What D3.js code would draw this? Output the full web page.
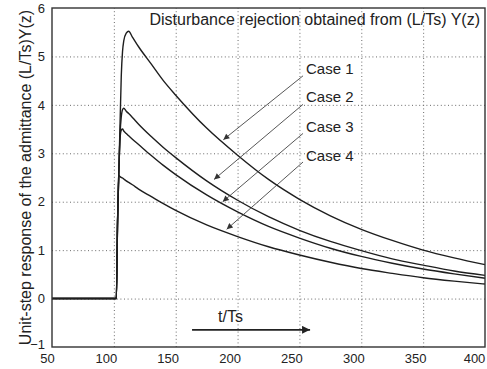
<!DOCTYPE html>
<html>
<head>
<meta charset="utf-8">
<script src="https://cdn.jsdelivr.net/npm/d3@7"></script>
<style>
body { margin: 0; background: #fff; }
text { font-family: "Liberation Sans", Arial, sans-serif; fill: #222; }
.grid line { stroke: #6a6a6a; stroke-dasharray: 1,2.6; }
.grid path { display: none; }
.axis path, .axis line { display: none; }
</style>
</head>
<body>
<svg id="chart" width="487" height="369"></svg>
<script>
// sample times (t/Ts)
var times = [50, 102, 103, 104, 105, 106, 107, 108, 110, 112, 115, 120, 130, 140, 150,
  175, 200, 225, 250, 275, 300, 325, 350, 375, 400];

// unit-step responses
var case1 = [0, 0, 1.6, 2.6, 3.6, 4.6, 5.1, 5.32, 5.48, 5.52, 5.4, 5.2, 4.85, 4.5, 4.2,
  3.52, 2.96, 2.46, 2.05, 1.71, 1.43, 1.2, 1.0, 0.84, 0.7];
var case2 = [0, 0, 1.6, 2.6, 3.4, 3.75, 3.9, 3.93, 3.87, 3.82, 3.74, 3.6, 3.35, 3.12, 2.91,
  2.43, 2.03, 1.69, 1.41, 1.18, 0.99, 0.82, 0.69, 0.57, 0.48];
var case3 = [0, 0, 1.6, 2.6, 3.3, 3.48, 3.5, 3.46, 3.41, 3.36, 3.29, 3.18, 2.96, 2.75, 2.56,
  2.14, 1.79, 1.49, 1.25, 1.04, 0.87, 0.73, 0.61, 0.51, 0.42];
var case4 = [0, 0, 1.6, 2.54, 2.52, 2.5, 2.49, 2.47, 2.43, 2.4, 2.35, 2.26, 2.11, 1.96, 1.82,
  1.52, 1.28, 1.07, 0.9, 0.75, 0.62, 0.52, 0.43, 0.36, 0.3];

var xTicks = [50, 100, 150, 200, 250, 300, 350, 400];
var yTicks = [-1, 0, 1, 2, 3, 4, 5, 6];

var caseNames = ["Case 1", "Case 2", "Case 3", "Case 4"];
// label anchor (t, value) and arrow tip (t, value)
var labelAt = [[255.3, 4.64], [255.3, 4.06], [255.3, 3.44], [255.3, 2.85]];
var arrowFrom = [[252.9, 4.6], [252.9, 4.01], [252.9, 3.41], [252.9, 2.82]];
var arrowTo = [[188.5, 3.28], [181.0, 2.46], [188.0, 2.0], [191.2, 1.43]];

var svg = d3.select("#chart"),
margin = {top: 8, right: 2, bottom: 22, left: 52},
width = +svg.attr("width") - margin.left - margin.right,
height = +svg.attr("height") - margin.top - margin.bottom;

var x = d3.scaleLinear().domain([50, 400]).range([0, width]),
y = d3.scaleLinear().domain([-1, 6]).range([height, 0]);

var defs = svg.append("defs");
defs.append("marker")
  .attr("id", "head")
  .attr("viewBox", "0 0 10 10")
  .attr("refX", 10).attr("refY", 5)
  .attr("markerWidth", 9).attr("markerHeight", 6)
  .attr("markerUnits", "userSpaceOnUse")
  .attr("orient", "auto")
.append("path")
  .attr("d", "M0,0L10,5L0,10z")
  .attr("fill", "#333");
defs.append("marker")
  .attr("id", "head2")
  .attr("viewBox", "0 0 10 10")
  .attr("refX", 10).attr("refY", 5)
  .attr("markerWidth", 11).attr("markerHeight", 8)
  .attr("markerUnits", "userSpaceOnUse")
  .attr("orient", "auto")
.append("path")
  .attr("d", "M0,0L10,5L0,10z")
  .attr("fill", "#222");

var g = svg.append("g")
  .attr("transform", "translate(" + margin.left + "," + margin.top + ")");

// dotted grid
g.append("g")
  .attr("class", "grid")
  .attr("transform", "translate(0," + height + ")")
  .call(d3.axisBottom(x).tickValues(xTicks.slice(1, -1)).tickSize(-height).tickFormat(""));
g.append("g")
  .attr("class", "grid")
  .call(d3.axisLeft(y).tickValues(yTicks.slice(1, -1)).tickSize(-width).tickFormat(""));

// tick labels
g.append("g")
  .attr("class", "axis")
  .attr("transform", "translate(0," + height + ")")
  .call(d3.axisBottom(x).tickValues(xTicks).tickSize(0).tickPadding(7).tickFormat(d3.format("d")))
  .selectAll("text")
  .attr("dx", function(d) { return d == 400 ? -11 : (d == 50 ? -5 : -8); })
  .style("font-size", "13px")
  .style("font-family", "'Liberation Sans', Arial, sans-serif")
  .attr("fill", "#222");
g.append("g")
  .attr("class", "axis")
  .call(d3.axisLeft(y).tickValues(yTicks).tickSize(0).tickPadding(7).tickFormat(d3.format("d")))
  .selectAll("text")
  .attr("dy", function(d) { return d == -1 ? "0.1em" : "0.32em"; })
  .style("font-size", "13px")
  .style("font-family", "'Liberation Sans', Arial, sans-serif")
  .attr("fill", "#222");

// curves
var line = d3.line()
  .x(function(d) { return x(d[0]); })
  .y(function(d) { return y(d[1]); })
  .curve(d3.curveMonotoneX);

[case1, case2, case3, case4].forEach(function(vals) {
  g.append("path")
    .datum(times.map(function(t, i) { return [t, vals[i]]; }))
    .attr("fill", "none")
    .attr("stroke", "#1e1e1e")
    .attr("stroke-width", 1.4)
    .attr("stroke-linejoin", "round")
    .attr("d", line);
});

// frame
g.append("rect")
  .attr("width", width)
  .attr("height", height)
  .attr("fill", "none")
  .attr("stroke", "#333")
  .attr("stroke-width", 1.4);

// annotations
caseNames.forEach(function(name, i) {
  g.append("line")
    .attr("x1", x(arrowFrom[i][0])).attr("y1", y(arrowFrom[i][1]))
    .attr("x2", x(arrowTo[i][0])).attr("y2", y(arrowTo[i][1]))
    .attr("stroke", "#444")
    .attr("stroke-width", 0.9)
    .attr("marker-end", "url(#head)");
  g.append("text")
    .attr("x", x(labelAt[i][0]))
    .attr("y", y(labelAt[i][1]))
    .style("font-size", "15px")
    .text(name);
});

g.append("text")
  .attr("x", x(400) - 5)
  .attr("y", 16.5)
  .attr("text-anchor", "end")
  .style("font-size", "16px")
  .text("Disturbance rejection obtained from (L/Ts) Y(z)");

g.append("text")
  .attr("x", x(184.2))
  .attr("y", y(-0.48))
  .style("font-size", "16px")
  .text("t/Ts");
g.append("line")
  .attr("x1", x(163.2)).attr("y1", y(-0.646))
  .attr("x2", x(258.6)).attr("y2", y(-0.646))
  .attr("stroke", "#222")
  .attr("stroke-width", 1.8)
  .attr("marker-end", "url(#head2)");

svg.append("text")
  .attr("transform", "translate(31," + (margin.top + height / 2) + ") rotate(-90)")
  .attr("text-anchor", "middle")
  .style("font-size", "16px")
  .text("Unit-step response of the admittance (L/Ts)Y(z)");
</script>
</body>
</html>
